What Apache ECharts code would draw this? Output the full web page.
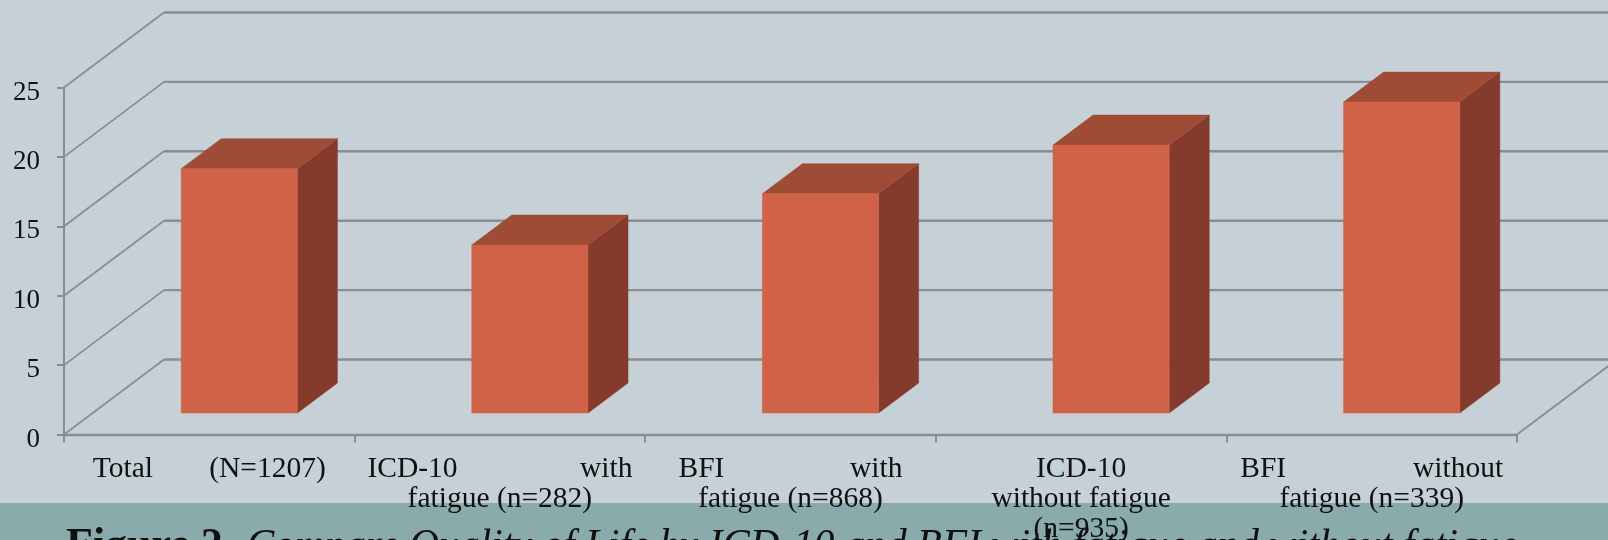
<!DOCTYPE html>
<html>
<head>
<meta charset="utf-8">
<style>
  html, body { margin: 0; padding: 0; background: #c5d0d7; }
  #chart { width: 1608px; height: 540px; }
</style>
</head>
<body>
<div id="chart"></div>
<script src="https://cdn.jsdelivr.net/npm/echarts@6/dist/echarts.min.js"></script>
<script>
// Mean quality-of-life score per group
const categories = [
  'Total (N=1207)',
  'ICD-10 with fatigue (n=282)',
  'BFI with fatigue (n=868)',
  'ICD-10 without fatigue (n=935)',
  'BFI without fatigue (n=339)'
];
const scores = [17.6, 12.1, 15.8, 19.3, 22.4];
const scoreTicks = [0, 5, 10, 15, 20, 25];

// How each category label is broken into lines; a two-part line is justified
const labelLines = [
  [['Total', '(N=1207)']],
  [['ICD-10', 'with'], ['fatigue (n=282)']],
  [['BFI', 'with'], ['fatigue (n=868)']],
  [['ICD-10'], ['without fatigue'], ['(n=935)']],
  [['BFI', 'without'], ['fatigue (n=339)']]
];
const justifiedWidths = [233, 265, 224, 0, 263];

const captionBold = 'Figure 2.';
const captionItalic = 'Compare Quality of Life by ICD-10 and BFI with fatigue and without fatigue';

const FONT = '"Liberation Serif", serif';
const LABEL_SIZE = 29.5;
const AXIS_COLOR = '#8b8e90';

// Oblique projection: the back wall is shifted right and up from the front plane
const WALL_DX = 100, WALL_DY = -75;
const BAR_SHIFT_X = 30, BAR_SHIFT_Y = -21.5;
const BAR_DEPTH_X = 40, BAR_DEPTH_Y = -30;
const BAR_FRACTION = 0.4;

const measure = document.createElement('canvas').getContext('2d');
measure.font = LABEL_SIZE + 'px "Liberation Serif"';

const labelRich = { t: { fontFamily: FONT, fontSize: LABEL_SIZE, lineHeight: 30, color: '#111' } };
const labelText = labelLines.map((lines, i) => lines.map((parts, j) => {
  if (parts.length === 1) return '{t|' + parts[0] + '}';
  const gap = justifiedWidths[i] - measure.measureText(parts[0]).width - measure.measureText(parts[1]).width;
  const key = 'g' + i + j;
  labelRich[key] = { width: gap, fontSize: LABEL_SIZE, lineHeight: 30 };
  return '{t|' + parts[0] + '}{' + key + '|\u00a0}{t|' + parts[1] + '}';
}).join('\n'));

function polygon(points, fill) {
  return { type: 'polygon', shape: { points }, style: { fill, stroke: fill, lineWidth: 0.5 } };
}

// Side wall diagonal plus back wall line for each value tick, and the floor's right edge
function renderWall(params, api) {
  const value = api.value(0);
  const left = params.coordSys.x;
  const y = api.coord([0, value])[1];
  const diagonal = { stroke: AXIS_COLOR, lineWidth: 1.8 };
  const children = [
    { type: 'line', shape: { x1: left, y1: y, x2: left + WALL_DX, y2: y + WALL_DY }, style: diagonal },
    { type: 'line', shape: { x1: left + WALL_DX, y1: y + WALL_DY, x2: api.getWidth(), y2: y + WALL_DY }, style: { stroke: AXIS_COLOR, lineWidth: 2.4 } }
  ];
  if (value === 0) {
    const right = left + params.coordSys.width;
    children.push({ type: 'line', shape: { x1: right, y1: y, x2: right + WALL_DX, y2: y + WALL_DY }, style: diagonal });
  }
  return { type: 'group', silent: true, children };
}

// A box bar: front face, top face and right side
function renderBox(params, api) {
  const base = api.coord([api.value(0), 0]);
  const top = api.coord([api.value(0), api.value(1)]);
  const w = api.size([1, 0])[0] * BAR_FRACTION;
  const x0 = base[0] + BAR_SHIFT_X - w / 2, x1 = x0 + w;
  const y0 = base[1] + BAR_SHIFT_Y, y1 = top[1] + BAR_SHIFT_Y;
  const dx = BAR_DEPTH_X, dy = BAR_DEPTH_Y;
  return {
    type: 'group',
    children: [
      polygon([[x1, y0], [x1 + dx, y0 + dy], [x1 + dx, y1 + dy], [x1, y1]], '#843b2c'),
      polygon([[x0, y1], [x1, y1], [x1 + dx, y1 + dy], [x0 + dx, y1 + dy]], '#9e4c35'),
      polygon([[x0, y0], [x1, y0], [x1, y1], [x0, y1]], '#d06347')
    ]
  };
}

const chart = echarts.init(document.getElementById('chart'), null, { renderer: 'canvas' });
chart.setOption({
  animation: false,
  backgroundColor: '#c5d0d7',
  grid: { left: 64, right: 91, top: 87.5, bottom: 105.5, outerBoundsMode: 'none' },
  xAxis: {
    type: 'category',
    data: categories,
    axisLine: { lineStyle: { color: AXIS_COLOR, width: 2.4 } },
    axisTick: { show: true, length: 8, lineStyle: { color: AXIS_COLOR, width: 2 } },
    axisLabel: {
      interval: 0,
      margin: 20,
      align: 'center',
      verticalAlign: 'top',
      rich: labelRich,
      formatter: (value, index) => labelText[index]
    }
  },
  yAxis: {
    type: 'value',
    min: scoreTicks[0],
    max: scoreTicks[scoreTicks.length - 1],
    interval: 5,
    axisLine: { show: true, lineStyle: { color: AXIS_COLOR, width: 2 } },
    axisTick: { show: true, length: 7, lineStyle: { color: AXIS_COLOR, width: 2 } },
    splitLine: { show: false },
    axisLabel: {
      margin: 24,
      fontFamily: FONT,
      fontSize: 27,
      color: '#111',
      verticalAlign: 'top',
      lineHeight: 10
    }
  },
  series: [
    {
      type: 'custom',
      name: 'Walls',
      silent: true,
      renderItem: renderWall,
      encode: { y: 0 },
      data: scoreTicks.map(v => [v]),
      z: 1
    },
    {
      type: 'custom',
      name: 'Quality of life',
      renderItem: renderBox,
      encode: { x: 0, y: 1 },
      data: scores.map((v, i) => [i, v]),
      z: 3
    }
  ],
  graphic: [
    { type: 'rect', z: -10, silent: true, shape: { x: 0, y: 503, width: 1608, height: 37 }, style: { fill: '#8aabac' } },
    {
      type: 'text', z: -5, silent: true, x: 66, y: 524,
      style: {
        text: '{b|' + captionBold + '}{s|\u00a0}{i|' + captionItalic + '}',
        rich: {
          b: { fontFamily: FONT, fontSize: 44, fontWeight: 'bold', fill: '#111', lineHeight: 46 },
          s: { width: 13, fontSize: 41, lineHeight: 46 },
          i: { fontFamily: FONT, fontSize: 41.2, fontStyle: 'italic', fill: '#111', lineHeight: 46 }
        }
      }
    }
  ]
});
</script>
</body>
</html>
